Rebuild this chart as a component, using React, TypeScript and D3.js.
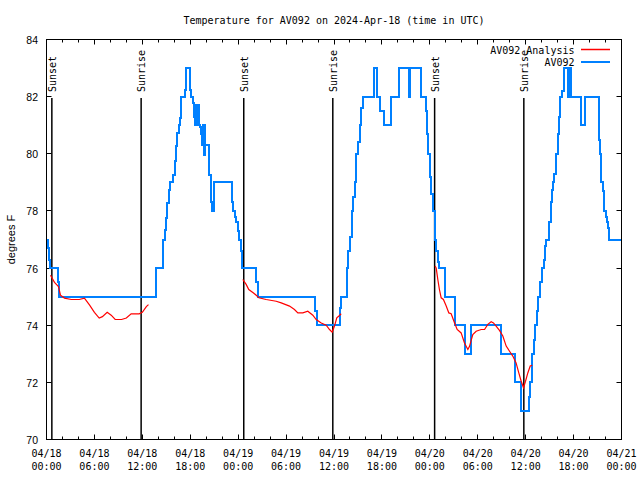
import React from 'react';
import * as d3 from 'd3';

const TITLE = 'Temperature for AV092 on 2024-Apr-18 (time in UTC)';
const Y_LABEL = 'degrees F';
const SERIES_NAMES = ['AV092 Analysis', 'AV092'];
const SERIES_COLORS = ['#ff0000', '#0080ff'];

const X_TICK_HOURS = [0, 6, 12, 18, 24, 30, 36, 42, 48, 54, 60, 66, 72];
const X_TICK_DATES = ['04/18', '04/18', '04/18', '04/18', '04/19', '04/19', '04/19', '04/19', '04/20', '04/20', '04/20', '04/20', '04/21'];
const X_TICK_TIMES = ['00:00', '06:00', '12:00', '18:00', '00:00', '06:00', '12:00', '18:00', '00:00', '06:00', '12:00', '18:00', '00:00'];
const X_MINOR_STEP = 2;
const Y_TICKS = [70, 72, 74, 76, 78, 80, 82, 84];

const SUN_HOURS = [0.67, 11.85, 24.7, 35.85, 48.6, 59.77];
const SUN_LABELS = ['Sunset', 'Sunrise', 'Sunset', 'Sunrise', 'Sunset', 'Sunrise'];

// Observed AV092 (hours since 04/18 00:00 UTC, degrees F), value holds until next point
const OBS: [number, number][] = [
  [0.1, 77.0], [0.2, 76.7], [0.35, 76.3], [0.45, 76.0], [1.45, 75.5], [1.6, 75.0],
  [13.65, 76.0], [14.57, 77.0], [14.78, 77.35], [14.98, 77.76], [15.15, 78.28], [15.3, 78.75], [15.45, 79.0],
  [15.9, 79.25], [16.07, 79.74], [16.24, 80.27], [16.36, 80.73], [16.53, 81.0], [16.7, 81.26], [16.86, 82.0],
  [17.4, 82.25], [17.53, 83.0], [17.99, 82.25], [18.15, 82.0], [18.3, 81.78], [18.49, 81.3], [18.6, 81.0],
  [18.7, 81.7], [18.83, 81.0], [19.0, 81.7], [19.08, 81.0], [19.2, 80.95], [19.35, 80.7], [19.5, 80.3],
  [19.58, 81.0], [19.7, 79.95], [19.8, 81.0], [19.9, 80.3], [20.29, 79.25], [20.54, 78.3], [20.7, 78.0],
  [20.95, 79.0], [23.25, 78.3], [23.4, 78.0], [23.6, 77.8], [23.75, 77.6], [23.95, 77.3], [24.1, 77.0],
  [24.3, 76.6], [24.5, 76.0],
  [26.26, 75.5], [26.46, 75.0], [33.64, 74.5], [33.84, 74.0], [36.8, 74.6], [36.9, 75.0], [37.6, 76.0],
  [37.8, 76.6], [38.0, 77.1], [38.2, 78.0], [38.4, 78.5], [38.57, 79.0], [38.78, 80.0], [38.98, 80.4],
  [39.2, 81.0], [39.4, 81.6], [39.6, 82.0], [40.95, 83.0], [41.36, 82.0], [41.82, 81.5], [42.24, 81.0],
  [43.16, 82.0], [44.2, 83.0], [45.37, 82.0], [45.54, 83.0], [46.92, 82.0], [47.46, 81.5], [47.62, 80.7],
  [47.83, 80.0], [48.0, 79.2], [48.17, 78.6], [48.37, 78.0], [48.6, 77.0], [48.8, 76.6], [49.0, 76.2],
  [49.1, 76.0], [49.87, 75.0], [51.13, 74.0], [52.43, 73.0], [53.18, 74.0], [56.9, 73.0], [58.7, 72.0],
  [59.44, 71.0], [60.39, 71.5], [60.55, 72.0], [60.8, 73.0], [61.0, 73.5], [61.2, 74.0], [61.4, 74.5],
  [61.6, 75.0], [61.8, 75.5], [62.05, 76.0], [62.27, 76.3], [62.44, 76.77], [62.6, 77.0], [62.98, 77.6],
  [63.15, 78.3], [63.28, 78.75], [63.4, 79.0], [63.6, 79.3], [63.8, 80.0], [64.0, 80.7], [64.15, 81.3],
  [64.33, 82.0], [64.55, 82.2], [64.78, 83.0], [65.28, 82.0], [65.45, 83.0], [65.62, 82.0], [66.95, 81.0],
  [67.45, 82.0], [69.12, 80.5], [69.33, 80.0], [69.46, 79.0], [69.7, 78.7], [69.87, 78.0], [70.05, 77.8],
  [70.16, 77.6], [70.25, 77.4], [70.4, 77.0], [72.0, 77.0],
];

// Analysis (three separate runs)
const ANALYSIS_1: [number, number][] = [
  [0.5, 75.75], [1.0, 75.5], [1.5, 75.35], [1.75, 75.05], [2.25, 74.95], [3.1, 74.9], [4.1, 74.9],
  [4.75, 74.95], [5.4, 74.7], [6.0, 74.45], [6.6, 74.25], [7.0, 74.3], [7.6, 74.45], [8.1, 74.35],
  [8.6, 74.2], [9.4, 74.2], [10.0, 74.25], [10.6, 74.4], [11.6, 74.4], [12.0, 74.45], [12.5, 74.65],
  [12.77, 74.72],
];
const ANALYSIS_2: [number, number][] = [
  [24.58, 75.6], [25.0, 75.43], [25.33, 75.25], [25.92, 75.13], [26.26, 75.05], [26.59, 74.96],
  [27.5, 74.9], [28.76, 74.84], [29.39, 74.78], [30.43, 74.67], [31.05, 74.55], [31.47, 74.43],
  [32.1, 74.43], [32.72, 74.49], [33.35, 74.35], [33.77, 74.2], [34.4, 74.08], [35.02, 74.0],
  [35.44, 73.85], [35.77, 73.76], [36.06, 73.97], [36.35, 74.26], [36.69, 74.34], [36.9, 74.4],
];
const ANALYSIS_3: [number, number][] = [
  [48.66, 76.07], [48.8, 76.0], [49.0, 75.6], [49.2, 75.25], [49.42, 74.96], [49.7, 74.9],
  [50.05, 74.67], [50.38, 74.43], [50.67, 74.4], [51.1, 74.08], [51.42, 73.85], [51.92, 73.73],
  [52.34, 73.38], [52.76, 73.15], [52.97, 73.26], [53.38, 73.67], [53.8, 73.79], [54.43, 73.85],
  [54.85, 73.85], [55.26, 74.03], [55.68, 74.12], [55.97, 74.08], [56.3, 73.97], [56.72, 73.82],
  [57.14, 73.62], [57.56, 73.27], [57.98, 73.09], [58.39, 72.92], [58.8, 72.68], [59.14, 72.33],
  [59.44, 72.04], [59.73, 71.81], [59.98, 72.04], [60.27, 72.33], [60.57, 72.57], [60.82, 72.6],
];
const ANALYSIS = [ANALYSIS_1, ANALYSIS_2, ANALYSIS_3];

const MONO = '"DejaVu Sans Mono", "Liberation Mono", monospace';
const SANS = '"Liberation Sans", Arial, sans-serif';

export default function App() {
  const W = 640, H = 480;
  const left = 46.5, right = 621.5, top = 39.5, bottom = 439.5;
  const x = d3.scaleLinear().domain([0, 72]).range([left, right]);
  const y = d3.scaleLinear().domain([70, 84]).range([bottom, top]);

  const stepLine = d3.line<[number, number]>().x(d => x(d[0])).y(d => y(d[1])).curve(d3.curveStepAfter);
  const linLine = d3.line<[number, number]>().x(d => x(d[0])).y(d => y(d[1]));

  const minorHours = d3.range(0, 72 + 0.001, X_MINOR_STEP);
  const px = (v: number) => Math.round(v - 0.5) + 0.5;

  return (
    <svg width={W} height={H} style={{ position: 'absolute', left: 0, top: 0, background: '#fff' }}>
      <rect x={0} y={0} width={W} height={H} fill="#fff" />
      <text x={(left + right) / 2} y={24} textAnchor="middle" fontFamily={MONO} fontSize={10}>{TITLE}</text>

      {/* ticks */}
      {minorHours.map((h, i) => {
        const major = h % 6 === 0;
        const len = major ? 5 : 3;
        const xx = px(x(h));
        return (
          <g key={'xt' + i} stroke="#000" strokeWidth={1}>
            <line x1={xx} x2={xx} y1={bottom} y2={bottom - len} />
            <line x1={xx} x2={xx} y1={top} y2={top + len} />
          </g>
        );
      })}
      {Y_TICKS.map((v, i) => {
        const yy = px(y(v));
        return (
          <g key={'yt' + i}>
            <line x1={left} x2={left + 5} y1={yy} y2={yy} stroke="#000" />
            <line x1={right} x2={right - 5} y1={yy} y2={yy} stroke="#000" />
            <text x={38} y={yy + 4} textAnchor="end" fontFamily={SANS} fontSize={10.5}>{v}</text>
          </g>
        );
      })}
      {X_TICK_HOURS.map((h, i) => (
        <g key={'xl' + i} fontFamily={MONO} fontSize={10} textAnchor="middle">
          <text x={x(h)} y={457}>{X_TICK_DATES[i]}</text>
          <text x={x(h)} y={470}>{X_TICK_TIMES[i]}</text>
        </g>
      ))}
      <text transform={`translate(15,${(top + bottom) / 2}) rotate(-90)`} textAnchor="middle" fontFamily={SANS} fontSize={11}>{Y_LABEL}</text>

      {/* sunrise / sunset */}
      {SUN_HOURS.map((h, i) => {
        const xx = x(h);
        return (
          <g key={'sun' + i}>
            <line x1={xx} x2={xx} y1={98} y2={bottom} stroke="#000" strokeWidth={1.5} />
            <text transform={`translate(${xx + 4},92) rotate(-90)`} fontFamily={MONO} fontSize={10}>{SUN_LABELS[i]}</text>
          </g>
        );
      })}

      {/* data */}
      <path d={stepLine(OBS) || ''} fill="none" stroke={SERIES_COLORS[1]} strokeWidth={2} shapeRendering="crispEdges" />
      {ANALYSIS.map((seg, i) => (
        <path key={'an' + i} d={linLine(seg) || ''} fill="none" stroke={SERIES_COLORS[0]} strokeWidth={1.2} />
      ))}

      {/* border */}
      <rect x={left} y={top} width={right - left} height={bottom - top} fill="none" stroke="#000" strokeWidth={1} />

      {/* legend */}
      {SERIES_NAMES.map((name, i) => (
        <g key={'lg' + i}>
          <text x={574.5} y={53.5 + i * 12.5} textAnchor="end" fontFamily={MONO} fontSize={10}>{name}</text>
          <line x1={581} x2={610} y1={49.5 + i * 12.5} y2={49.5 + i * 12.5} stroke={SERIES_COLORS[i]} strokeWidth={i === 0 ? 1.5 : 2} />
        </g>
      ))}
    </svg>
  );
}
